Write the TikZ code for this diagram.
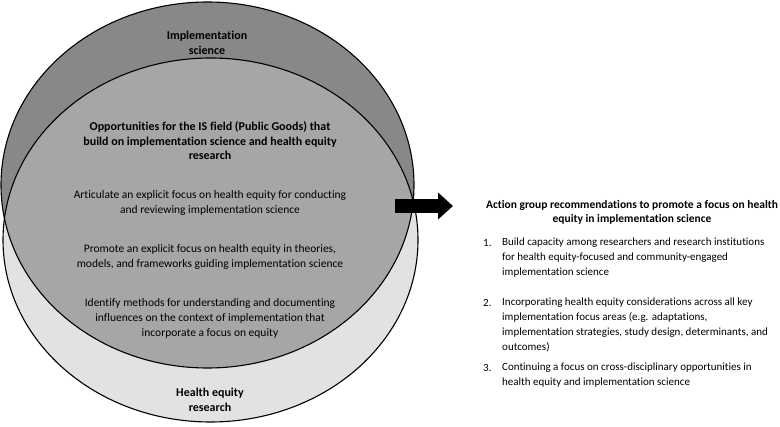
\documentclass[tikz,border=0pt]{standalone}
\usepackage{fontspec}
\setmainfont{Carlito}[Ligatures=NoCommon]
\usetikzlibrary{arrows.meta}
\definecolor{isgray}{RGB}{136,136,136}
\definecolor{bothgray}{RGB}{166,166,166}
\definecolor{hegray}{RGB}{226,226,226}
\begin{document}
\begin{tikzpicture}
    [
        x = 1pt, y = -1pt,
        venn/.style = {draw, line width = 1.1pt},
        title/.style = {font = \bfseries\fontsize{12}{14.5}\selectfont, align = center},
        body/.style = {font = \fontsize{11.5}{15}\selectfont, align = center},
        rectitle/.style = {font = \bfseries\fontsize{11.5}{14}\selectfont, align = center},
        recitem/.style = {font = \fontsize{11}{15}\selectfont, align = left, anchor = west, inner sep = 0pt},
        recnum/.style = {font = \fontsize{11}{15}\selectfont, anchor = west, inner sep = 0pt}
    ]
    \useasboundingbox (0,0) rectangle (780,427);

    \fill[hegray] (210.5,240) ellipse [x radius = 207.5, y radius = 182];
    \fill[isgray] (207.5,185) ellipse [x radius = 206.5, y radius = 183];
    \begin{scope}
        \clip (207.5,185) ellipse [x radius = 206.5, y radius = 183];
        \fill[bothgray] (210.5,240) ellipse [x radius = 207.5, y radius = 182];
    \end{scope}
    \draw[venn] (210.5,240) ellipse [x radius = 207.5, y radius = 182];
    \draw[venn] (207.5,185) ellipse [x radius = 206.5, y radius = 183];

    \node[title] (IS) at (207,43) {Implementation\\science};
    \node[title] (HE) at (210,400) {Health equity\\research};
    \node[title] (Goods) at (210,141) {Opportunities for the IS field (Public Goods) that\\build on implementation science and health equity\\research};
    \node[body] (Articulate) at (210,203) {Articulate an explicit focus on health equity for conducting\\and reviewing implementation science};
    \node[body] (Promote) at (210,257) {Promote an explicit focus on health equity in theories,\\models, and frameworks guiding implementation science};
    \node[body] (Identify) at (210,318) {Identify methods for understanding and documenting\\influences on the context of implementation that\\incorporate a focus on equity};

    \node[rectitle] (Recs) at (632,212) {Action group recommendations to promote a focus on health\\equity in implementation science};
    \node[recnum] (Num1) at (483,243) {1.};
    \node[recitem] (Rec1) at (502,258) {Build capacity among researchers and research institutions\\for health equity-focused and community-engaged\\implementation science};
    \node[recnum] (Num2) at (483,302.5) {2.};
    \node[recitem] (Rec2) at (502,325) {Incorporating health equity considerations across all key\\implementation focus areas (e.g. adaptations,\\implementation strategies, study design, determinants, and\\outcomes)};
    \node[recnum] (Num3) at (483,368) {3.};
    \node[recitem] (Rec3) at (502,375.5) {Continuing a focus on cross-disciplinary opportunities in\\health equity and implementation science};

    \coordinate (ArrowStart) at (395,206);
    \coordinate (ArrowEnd) at (453,206);
    \draw[line width = 14pt, -{Triangle[length = 15pt, width = 26pt]}] (ArrowStart) -- (ArrowEnd);
\end{tikzpicture}
\end{document}
